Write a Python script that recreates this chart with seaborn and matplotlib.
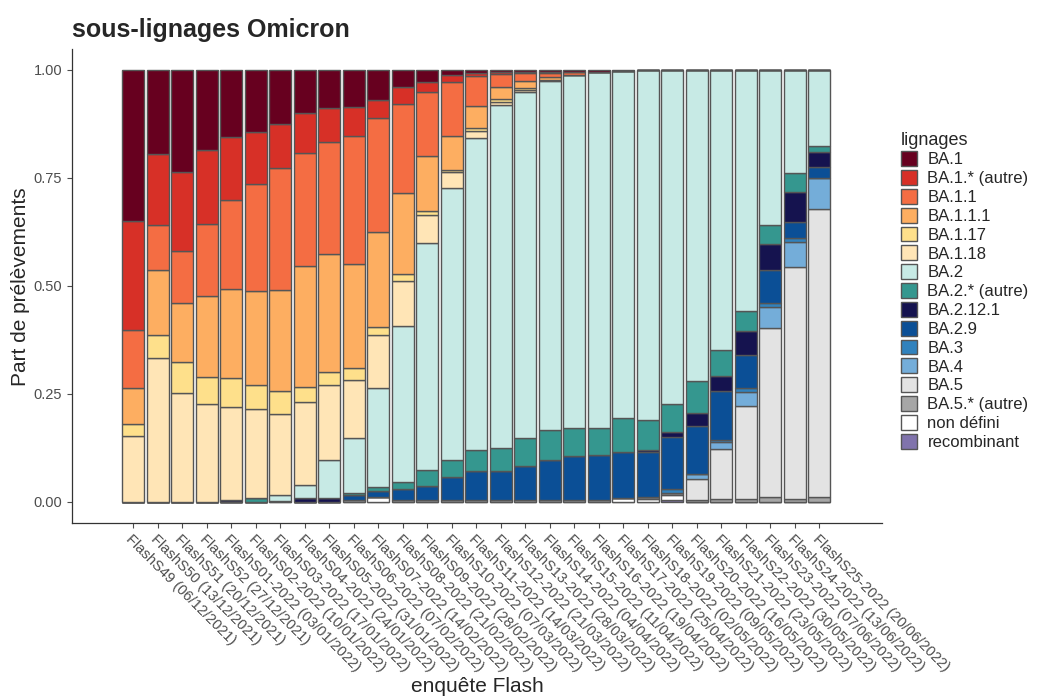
import numpy as np
import pandas as pd
import matplotlib
matplotlib.use("Agg")
import matplotlib.pyplot as plt
import seaborn as sns

# enquêtes Flash (x axis)
enquetes = ["FlashS49 (06/12/2021)", "FlashS50 (13/12/2021)", "FlashS51 (20/12/2021)",
            "FlashS52 (27/12/2021)", "FlashS01-2022 (03/01/2022)", "FlashS02-2022 (10/01/2022)",
            "FlashS03-2022 (17/01/2022)", "FlashS04-2022 (24/01/2022)", "FlashS05-2022 (31/01/2022)",
            "FlashS06-2022 (07/02/2022)", "FlashS07-2022 (14/02/2022)", "FlashS08-2022 (21/02/2022)",
            "FlashS09-2022 (28/02/2022)", "FlashS10-2022 (07/03/2022)", "FlashS11-2022 (14/03/2022)",
            "FlashS12-2022 (21/03/2022)", "FlashS13-2022 (28/03/2022)", "FlashS14-2022 (04/04/2022)",
            "FlashS15-2022 (11/04/2022)", "FlashS16-2022 (19/04/2022)", "FlashS17-2022 (25/04/2022)",
            "FlashS18-2022 (02/05/2022)", "FlashS19-2022 (09/05/2022)", "FlashS20-2022 (16/05/2022)",
            "FlashS21-2022 (23/05/2022)", "FlashS22-2022 (30/05/2022)", "FlashS23-2022 (07/06/2022)",
            "FlashS24-2022 (13/06/2022)", "FlashS25-2022 (20/06/2022)"]

# part (%) of each lineage per enquête
BA_1 = [35.0, 19.5, 23.7, 18.5, 15.6, 14.3, 12.4, 9.9, 8.9, 8.5, 6.9, 4.0, 2.9, 1.2, 0.8,
        0.5, 0.5, 0.5, 0.4, 0.4, 0.3, 0, 0, 0, 0, 0, 0, 0, 0]
BA_1_autre = [25.1, 16.4, 18.2, 17.2, 14.5, 12.1, 10.3, 9.3, 7.7, 6.8, 4.3, 3.9, 2.3, 1.5, 0.7,
              0.4, 0.3, 0.3, 0, 0, 0, 0, 0, 0, 0, 0, 0, 0, 0]
BA_1_1 = [13.6, 10.4, 12.0, 16.6, 20.7, 24.8, 28.3, 26.2, 26.0, 29.5, 26.4, 20.7, 14.7, 12.6, 6.8,
          3.0, 1.7, 0.9, 0.8, 0, 0, 0, 0, 0, 0, 0, 0, 0, 0]
BA_1_1_1 = [8.3, 15.1, 13.8, 18.8, 20.6, 21.8, 23.4, 28.0, 27.4, 24.1, 21.9, 18.7, 12.7, 7.9, 5.2,
            2.9, 1.7, 0.6, 0, 0, 0, 0, 0, 0, 0, 0, 0, 0, 0]
BA_1_17 = [2.8, 5.4, 7.0, 6.2, 6.6, 5.4, 5.3, 3.5, 3.0, 2.8, 1.9, 1.6, 1.0, 0.4, 0.6,
           0.5, 0.4, 0, 0, 0, 0, 0, 0, 0, 0, 0, 0, 0, 0]
BA_1_18 = [15.2, 33.2, 25.3, 22.6, 21.5, 20.8, 18.6, 19.1, 17.2, 13.5, 12.3, 10.3, 6.6, 3.8, 1.7,
           0.8, 0.6, 0.3, 0, 0, 0, 0, 0, 0, 0, 0, 0, 0, 0]
BA_2 = [0, 0, 0, 0, 0, 0, 1.5, 3.2, 8.8, 12.6, 22.8, 36.2, 52.6, 62.8, 72.0,
        79.3, 80.0, 80.8, 81.8, 82.5, 80.6, 81.0, 77.7, 72.1, 64.9, 55.8, 35.9, 23.9, 17.6]
BA_2_autre = [0, 0, 0, 0, 0, 0.8, 0, 0, 0, 0.6, 1.0, 1.7, 3.7, 3.9, 5.0,
              5.4, 6.5, 6.8, 6.4, 6.2, 7.8, 6.9, 6.6, 7.3, 6.0, 4.7, 4.5, 4.3, 1.3]
BA_2_12_1 = [0, 0, 0, 0, 0.5, 0, 0, 0.8, 1.0, 0, 0, 0, 0, 0, 0,
             0, 0, 0, 0, 0, 0, 0.5, 1.2, 3.0, 3.5, 5.4, 5.9, 7.1, 3.6]
BA_2_9 = [0, 0, 0, 0, 0, 0, 0, 0, 0, 1.0, 1.3, 2.4, 3.1, 5.3, 6.6,
          6.6, 7.8, 9.3, 10.1, 10.4, 10.8, 10.4, 12.1, 11.2, 11.2, 7.7, 7.6, 3.5, 2.6]
BA_3 = [0, 0, 0, 0, 0, 0, 0, 0, 0, 0, 0, 0, 0, 0, 0,
        0, 0, 0, 0, 0, 0, 0, 0.8, 0, 0.6, 0.9, 0.9, 1.0, 0]
BA_4 = [0, 0, 0, 0, 0, 0, 0, 0, 0, 0, 0, 0, 0, 0, 0,
        0, 0, 0, 0, 0, 0, 0, 0, 1.1, 1.5, 3.4, 5.0, 5.8, 7.1]
BA_5 = [0, 0, 0, 0, 0, 0, 0, 0, 0, 0, 0, 0, 0, 0, 0,
        0, 0, 0, 0, 0, 0, 0, 0, 4.8, 11.7, 21.5, 39.0, 53.8, 66.6]
BA_5_autre = [0, 0, 0, 0, 0, 0, 0, 0, 0, 0, 0, 0, 0, 0, 0,
              0, 0, 0, 0, 0, 0, 0.6, 0.6, 0.5, 0.6, 0.6, 1.2, 0.6, 1.2]
non_defini = [0, 0, 0, 0, 0, 0, 0.2, 0, 0, 0.5, 1.2, 0.5, 0.5, 0.5, 0.5,
              0.5, 0.5, 0.5, 0.5, 0.5, 0.8, 0.6, 1.0, 0, 0, 0, 0, 0, 0]
recombinant = [0, 0, 0, 0, 0, 0, 0, 0, 0, 0, 0, 0, 0, 0, 0,
               0, 0, 0, 0, 0, 0, 0, 0.5, 0, 0, 0, 0, 0, 0]

lignages = ["BA.1", "BA.1.* (autre)", "BA.1.1", "BA.1.1.1", "BA.1.17", "BA.1.18", "BA.2",
            "BA.2.* (autre)", "BA.2.12.1", "BA.2.9", "BA.3", "BA.4", "BA.5", "BA.5.* (autre)",
            "non défini", "recombinant"]
series = [BA_1, BA_1_autre, BA_1_1, BA_1_1_1, BA_1_17, BA_1_18, BA_2, BA_2_autre, BA_2_12_1,
          BA_2_9, BA_3, BA_4, BA_5, BA_5_autre, non_defini, recombinant]
couleurs = ["#67001F", "#D73027", "#F46D43", "#FDAE61", "#FEE08B", "#FFE5B6", "#C7EAE5",
            "#35978F", "#15134F", "#0B4F96", "#3182BD", "#74ADD9", "#E3E3E3", "#A6A6A6",
            "#FFFFFF", "#8073AC"]

rows = []
for lig, vals in zip(lignages, series):
    for i, v in enumerate(vals):
        rows.append({"x": i, "lignages": lig, "part": v})
df = pd.DataFrame(rows)

sns.set_style("ticks")
plt.rcParams["font.family"] = ["Liberation Sans", "DejaVu Sans"]

fig = plt.figure(figsize=(10.43, 6.97), dpi=100)
ax = fig.add_axes([0.069, 0.2496, 0.7766, 0.6804])

# first hue level ends up on top of the stack
sns.histplot(data=df, x="x", weights="part", hue="lignages", hue_order=lignages,
             palette=dict(zip(lignages, couleurs)), multiple="fill", discrete=True,
             shrink=0.9, alpha=1, edgecolor="#555555", linewidth=1.0, ax=ax)

ax.set_xlim(-2.5, 30.55)
ax.set_ylim(-0.049, 1.049)
ax.set_yticks([0, 0.25, 0.5, 0.75, 1.0])
ax.set_yticklabels(["0.00", "0.25", "0.50", "0.75", "1.00"])
ax.set_xticks(range(len(enquetes)))
ax.set_xticklabels(enquetes, rotation=-45, ha="left", va="top", rotation_mode="anchor")
ax.tick_params(axis="both", labelsize=10.5, labelcolor="#4D4D4D", color="#4D4D4D",
               length=3.5, width=0.8)
ax.tick_params(axis="x", pad=3)
ax.set_xlabel("")
ax.set_ylabel("")
sns.despine(ax=ax)
for s in ["left", "bottom"]:
    ax.spines[s].set_color("#333333")
    ax.spines[s].set_linewidth(0.9)

# legend on the right, first lineage on top
handles = ax.get_legend().legend_handles
labels = [t.get_text() for t in ax.get_legend().get_texts()]
order = [labels.index(l) for l in lignages]
ax.get_legend().remove()
leg = ax.legend([handles[i] for i in order], [labels[i] for i in order],
                loc="upper left", bbox_to_anchor=(1.013, 0.843), frameon=False,
                title="lignages", fontsize=12, title_fontsize=13, borderpad=0,
                handlelength=1.0, handleheight=1.0, handletextpad=0.6, labelspacing=0.16,
                alignment="left")

fig.text(72 / 1043, 1 - 37 / 697, "sous-lignages Omicron", fontsize=18, fontweight="bold",
         ha="left", va="baseline")
fig.text(21 / 1043, 1 - 287 / 697, "Part de prélèvements", fontsize=15, rotation=90,
         ha="center", va="center")
fig.text(477 / 1043, 1 - 686 / 697, "enquête Flash", fontsize=15, ha="center", va="center")

fig.savefig("out.png", dpi=100)
